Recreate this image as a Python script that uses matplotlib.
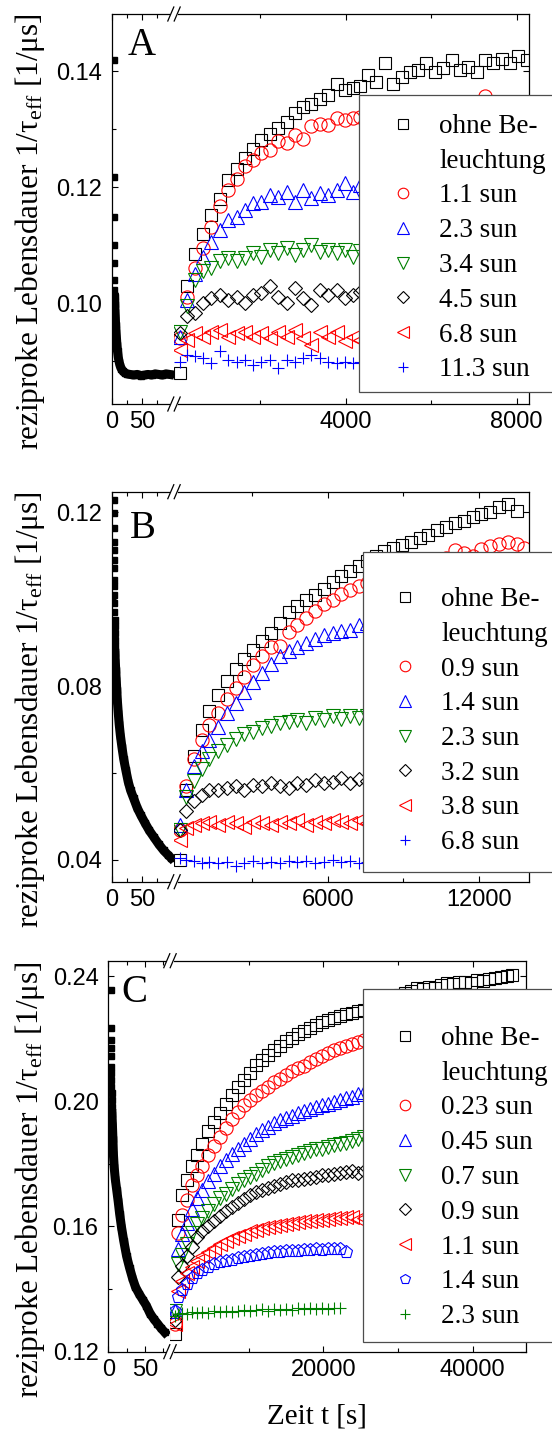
import matplotlib
matplotlib.use("Agg")
import matplotlib.pyplot as plt
from matplotlib.lines import Line2D
from matplotlib.patches import Rectangle
from matplotlib.legend import Legend
from matplotlib.ticker import FixedLocator, FormatStrFormatter

plt.rcParams['font.family'] = 'Liberation Sans'
plt.rcParams['mathtext.fontset'] = 'custom'
plt.rcParams['mathtext.rm'] = 'Liberation Serif'
plt.rcParams['mathtext.it'] = 'Liberation Serif:italic'
plt.rcParams['axes.linewidth'] = 0.9

SERIF = 'Liberation Serif'

# ---------------- data ----------------
# panel A
decA_top_t = [3.0, 3.1, 3.2, 3.3, 3.4, 3.6, 3.8]
decA_top = [0.1419, 0.1218, 0.1149, 0.1100, 0.1069, 0.1040, 0.1023]
decA_t = [4.2, 4.6, 5.0, 5.5, 6.0, 6.7, 7.4, 8.2, 9.2, 10.4, 11.8, 13.5, 15.5, 18.0,
          21.0, 25.0, 30.0, 36.0, 42.0, 48.0, 54.0, 60.0, 66.0, 72.0, 78.0, 84.0, 90.0, 96.0]
decA_y = [0.1010, 0.0998, 0.0985, 0.0975, 0.0962, 0.0950, 0.0940, 0.0928, 0.0917, 0.0907,
          0.0899, 0.0892, 0.0887, 0.0883, 0.0880, 0.0878, 0.0877, 0.0876, 0.0877, 0.0875,
          0.0876, 0.0877, 0.0876, 0.0878, 0.0877, 0.0876, 0.0878, 0.0877]
tA = [120, 280, 470, 670, 860, 1060, 1250, 1450, 1640, 1840, 2030, 2230, 2420, 2620, 2810,
      3010, 3200, 3400, 3590, 3790, 3980, 4180, 4330, 4530, 4720, 4920, 5110, 5310, 5500,
      5700, 5890, 6090, 6280, 6480, 6670, 6870, 7060, 7260, 7450, 7650, 7840, 8040, 8230]
A_labels = ['ohne Be-', 'leuchtung', '1.1 sun', '2.3 sun', '3.4 sun', '4.5 sun', '6.8 sun', '11.3 sun']
A_dark = [0.0879, 0.1030, 0.1085, 0.1120, 0.1152, 0.1180, 0.1212, 0.1232, 0.1250, 0.1266,
          0.1282, 0.1292, 0.1303, 0.1313, 0.1328, 0.1339, 0.1344, 0.1352, 0.1360, 0.1378,
          0.1368, 0.1372, 0.1374, 0.1394, 0.1382, 0.1415, 0.1378, 0.1391, 0.1399, 0.1402,
          0.1414, 0.1399, 0.1405, 0.1419, 0.1402, 0.1408, 0.1399, 0.1420, 0.1414, 0.1422,
          0.1414, 0.1426, 0.1420]
A_11 = [0.0940, 0.1010, 0.1060, 0.1095, 0.1132, 0.1168, 0.1196, 0.1214, 0.1236, 0.1247,
        0.1259, 0.1264, 0.1279, 0.1276, 0.1290, 0.1284, 0.1305, 0.1310, 0.1307, 0.1319,
        0.1316, 0.1319, 0.1322, 0.1325, 0.1321, 0.1331, 0.1326, 0.1334, 0.1329, 0.1336,
        0.1332, 0.1339, 0.1334, 0.1341, 0.1336, 0.1343, 0.1338, 0.1357, 0.1341, 0.1345,
        0.1340, 0.1347, 0.1343]
A_23 = [0.0942, 0.1005, 0.1050, 0.1080, 0.1106, 0.1126, 0.1144, 0.1149, 0.1160, 0.1172,
        0.1175, 0.1187, 0.1184, 0.1192, 0.1175, 0.1195, 0.1181, 0.1190, 0.1186, 0.1195,
        0.1207, 0.1192, 0.1204]
A_34 = [0.0950, 0.0995, 0.1040, 0.1055, 0.1060, 0.1072, 0.1078, 0.1072, 0.1078, 0.1086,
        0.1080, 0.1092, 0.1086, 0.1095, 0.1083, 0.1092, 0.1101, 0.1089, 0.1092, 0.1086,
        0.1092, 0.1080, 0.1090]
A_45 = [0.0948, 0.0977, 0.0983, 0.1000, 0.1009, 0.1014, 0.1006, 0.1011, 0.1000, 0.1014,
        0.1017, 0.1029, 0.1011, 0.1000, 0.1026, 0.1009, 0.0997, 0.1023, 0.1014, 0.1023,
        0.1009, 0.1014, 0.1020]
A_68 = [0.0919, 0.0937, 0.0948, 0.0942, 0.0951, 0.0954, 0.0942, 0.0948, 0.0951, 0.0942,
        0.0948, 0.0940, 0.0951, 0.0942, 0.0954, 0.0940, 0.0928, 0.0951, 0.0942, 0.0951,
        0.0934, 0.0942, 0.0937]
A_113 = [0.0899, 0.0911, 0.0908, 0.0905, 0.0897, 0.0917, 0.0902, 0.0899, 0.0902, 0.0894,
         0.0899, 0.0902, 0.0888, 0.0902, 0.0899, 0.0905, 0.0911, 0.0905, 0.0899, 0.0897,
         0.0899, 0.0897, 0.0899]

# panel B
decB_top_t = [3.0, 3.1, 3.2, 3.3, 3.4, 3.5, 3.6, 3.7, 3.8, 3.9, 4.0, 4.1, 4.2, 4.3, 4.4, 4.5, 4.6]
decB_top = [0.1228, 0.1198, 0.1163, 0.1132, 0.1113, 0.1090, 0.1071, 0.1044, 0.1029, 0.1010,
            0.0991, 0.0971, 0.0952, 0.0937, 0.0922, 0.0906, 0.0891]
decB_t = [5.0, 5.5, 6.2, 7.0, 8.0, 9.0, 10.5, 12.0, 14.0, 16.5, 19.5, 23.0, 27.0, 31.0,
          36.0, 42.0, 48.0, 55.0, 62.0, 70.0, 78.0, 86.0, 93.0, 98.0]
decB_y = [0.0875, 0.0855, 0.0837, 0.0815, 0.0790, 0.0765, 0.0737, 0.0712, 0.0686, 0.0660,
          0.0632, 0.0607, 0.0580, 0.0560, 0.0542, 0.0520, 0.0503, 0.0485, 0.0468, 0.0452,
          0.0436, 0.0422, 0.0412, 0.0405]
tB = [150, 400, 700, 1000, 1300, 1650, 2000, 2350, 2700, 3050, 3400, 3750, 4100, 4450,
      4800, 5150, 5500, 5850, 6200, 6550, 6900, 7250, 7550, 7900, 8250, 8600, 8950, 9300,
      9650, 10000, 10350, 10700, 11050, 11400, 11750, 12100, 12450, 12800, 13150, 13500, 13800]
B_labels = ['ohne Be-', 'leuchtung', '0.9 sun', '1.4 sun', '2.3 sun', '3.2 sun', '3.8 sun', '6.8 sun']
B_dark = [0.0400, 0.0560, 0.0640, 0.0700, 0.0742, 0.0779, 0.0812, 0.0840, 0.0862, 0.0883,
          0.0904, 0.0922, 0.0945, 0.0970, 0.0984, 0.0997, 0.1010, 0.1024, 0.1040, 0.1053,
          0.1064, 0.1076, 0.1088, 0.1100, 0.1110, 0.1117, 0.1125, 0.1132, 0.1140, 0.1148,
          0.1158, 0.1165, 0.1175, 0.1180, 0.1188, 0.1195, 0.1200, 0.1212, 0.1218, 0.1203]
B_09 = [0.0470, 0.0570, 0.0632, 0.0675, 0.0710, 0.0738, 0.0770, 0.0796, 0.0820, 0.0849,
        0.0868, 0.0890, 0.0893, 0.0925, 0.0940, 0.0957, 0.0973, 0.0989, 0.0999, 0.1012,
        0.1021, 0.1030, 0.1036, 0.1045, 0.1052, 0.1060, 0.1068, 0.1075, 0.1080, 0.1085,
        0.1090, 0.1094, 0.1112, 0.1107, 0.1098, 0.1115, 0.1122, 0.1127, 0.1131, 0.1126, 0.1118]
B_14 = [0.0480, 0.0560, 0.0615, 0.0650, 0.0675, 0.0705, 0.0737, 0.0762, 0.0786, 0.0810,
        0.0830, 0.0850, 0.0868, 0.0880, 0.0889, 0.0898, 0.0908, 0.0917, 0.0922, 0.0926,
        0.0930, 0.0940, 0.0945]
B_23 = [0.0470, 0.0545, 0.0582, 0.0610, 0.0632, 0.0650, 0.0665, 0.0678, 0.0690, 0.0695,
        0.0703, 0.0707, 0.0714, 0.0718, 0.0722, 0.0714, 0.0726, 0.0722, 0.0730, 0.0724,
        0.0730, 0.0726, 0.0731]
B_32 = [0.0470, 0.0513, 0.0536, 0.0550, 0.0562, 0.0561, 0.0566, 0.0569, 0.0561, 0.0572,
        0.0569, 0.0576, 0.0569, 0.0565, 0.0576, 0.0572, 0.0584, 0.0576, 0.0580, 0.0588,
        0.0576, 0.0586, 0.0582]
B_38 = [0.0446, 0.0473, 0.0480, 0.0484, 0.0488, 0.0480, 0.0488, 0.0484, 0.0476, 0.0488,
        0.0484, 0.0480, 0.0488, 0.0484, 0.0492, 0.0480, 0.0488, 0.0484, 0.0492, 0.0488,
        0.0484, 0.0492, 0.0486]
B_68 = [0.0404, 0.0400, 0.0397, 0.0394, 0.0396, 0.0393, 0.0395, 0.0386, 0.0394, 0.0397,
        0.0393, 0.0396, 0.0394, 0.0397, 0.0395, 0.0398, 0.0394, 0.0396, 0.0399, 0.0395,
        0.0397, 0.0394, 0.0396]

# panel C
decC_top_t = [3.5, 3.6, 3.7, 3.8, 3.9, 4.0, 4.1, 4.2, 4.3, 4.4, 4.5, 4.6]
decC_top = [0.2355, 0.2233, 0.2196, 0.2170, 0.2143, 0.2111, 0.2090, 0.2069, 0.2047, 0.2026,
            0.2005, 0.1983]
decC_t = [5.0, 5.6, 6.3, 7.0, 8.0, 9.5, 11.4, 13.5, 15.5, 18.0, 21.0, 25.0, 29.0, 33.0,
          37.0, 42.0, 47.0, 52.0, 57.0, 62.0, 67.0, 72.0, 77.0]
decC_y = [0.1960, 0.1925, 0.1880, 0.1830, 0.1790, 0.1752, 0.1718, 0.1680, 0.1640, 0.1598,
          0.1555, 0.1505, 0.1468, 0.1435, 0.1407, 0.1385, 0.1366, 0.1347, 0.1322, 0.1305,
          0.1290, 0.1275, 0.1262]
tC = [200, 600, 1100, 1700, 2400, 3100, 3800, 4600, 5400, 6200, 7000, 7800, 8600, 9400,
      10200, 11000, 11800, 12600, 13400, 14200, 15000, 15800, 16600, 17400, 18200, 19000,
      19800, 20600, 21400, 22200, 23000, 23800, 24600, 25400, 26200, 27000, 27800, 28600,
      29400, 30200, 31000, 31800, 32600, 33400, 34200, 35000, 35800, 36600, 37400, 38200,
      39000, 39800, 40600, 41400, 42200, 43000, 43800, 44600, 45200]
C_labels = ['ohne Be-', 'leuchtung', '0.23 sun', '0.45 sun', '0.7 sun', '0.9 sun',
            '1.1 sun', '1.4 sun', '2.3 sun']
C_dark = [0.1255, 0.1620, 0.1700, 0.1750, 0.1792, 0.1827, 0.1865, 0.1905, 0.1935, 0.1962,
          0.1992, 0.2020, 0.2045, 0.2068, 0.2090, 0.2115, 0.2132, 0.2148, 0.2165, 0.2178,
          0.2191, 0.2203, 0.2216, 0.2226, 0.2235, 0.2245, 0.2253, 0.2260, 0.2266, 0.2272,
          0.2278, 0.2283, 0.2287, 0.2292, 0.2296, 0.2305, 0.2315, 0.2322, 0.2330, 0.2338,
          0.2345, 0.2352, 0.2361, 0.2358, 0.2366, 0.2363, 0.2372, 0.2377, 0.2374, 0.2380,
          0.2382, 0.2379, 0.2387, 0.2385, 0.2390, 0.2394, 0.2398, 0.2400, 0.2404]
C_023 = [0.1290, 0.1580, 0.1638, 0.1686, 0.1731, 0.1764, 0.1794, 0.1827, 0.1858, 0.1886,
         0.1915, 0.1943, 0.1966, 0.1988, 0.2005, 0.2021, 0.2034, 0.2047, 0.2060, 0.2072,
         0.2085, 0.2096, 0.2106, 0.2114, 0.2124, 0.2134, 0.2143, 0.2153, 0.2163, 0.2171,
         0.2178, 0.2184, 0.2190, 0.2195]
C_045 = [0.1330, 0.1527, 0.1575, 0.1612, 0.1655, 0.1690, 0.1718, 0.1745, 0.1769, 0.1792,
         0.1812, 0.1831, 0.1847, 0.1862, 0.1879, 0.1895, 0.1909, 0.1919, 0.1929, 0.1939,
         0.1946, 0.1952, 0.1962, 0.1970, 0.1976, 0.1983, 0.1989, 0.1992, 0.1997, 0.2003,
         0.2009, 0.2015, 0.2022, 0.2028]
C_07 = [0.1330, 0.1480, 0.1510, 0.1545, 0.1580, 0.1607, 0.1628, 0.1650, 0.1672, 0.1690,
        0.1705, 0.1721, 0.1736, 0.1749, 0.1758, 0.1768, 0.1781, 0.1792, 0.1802, 0.1809,
        0.1815, 0.1821, 0.1827, 0.1834, 0.1840, 0.1846, 0.1849, 0.1854, 0.1860, 0.1864,
        0.1868, 0.1873, 0.1880, 0.1886]
C_09 = [0.1300, 0.1440, 0.1475, 0.1505, 0.1535, 0.1565, 0.1585, 0.1601, 0.1617, 0.1633,
        0.1648, 0.1662, 0.1675, 0.1688, 0.1700, 0.1710, 0.1717, 0.1723, 0.1730, 0.1736,
        0.1742, 0.1747, 0.1750, 0.1753, 0.1756, 0.1759, 0.1763, 0.1766, 0.1769, 0.1772,
        0.1775, 0.1778, 0.1772, 0.1778]
C_11 = [0.1290, 0.1395, 0.1425, 0.1450, 0.1472, 0.1490, 0.1505, 0.1518, 0.1530, 0.1545,
        0.1555, 0.1563, 0.1570, 0.1577, 0.1584, 0.1590, 0.1596, 0.1599, 0.1602, 0.1605,
        0.1608, 0.1611, 0.1614, 0.1617, 0.1619, 0.1620, 0.1621, 0.1624, 0.1626, 0.1627,
        0.1629, 0.1630, 0.1625, 0.1628]
C_14 = [0.1330, 0.1375, 0.1398, 0.1415, 0.1435, 0.1450, 0.1462, 0.1472, 0.1480, 0.1486,
        0.1490, 0.1494, 0.1500, 0.1503, 0.1506, 0.1509, 0.1512, 0.1516, 0.1518, 0.1519,
        0.1521, 0.1522, 0.1521, 0.1524, 0.1525, 0.1527, 0.1526, 0.1528, 0.1527, 0.1529, 0.1520]
C_23 = [0.1315, 0.1320, 0.1325, 0.1321, 0.1327, 0.1323, 0.1328, 0.1324, 0.1329, 0.1326,
        0.1331, 0.1327, 0.1330, 0.1333, 0.1329, 0.1332, 0.1335, 0.1331, 0.1336, 0.1333,
        0.1337, 0.1334, 0.1338, 0.1335, 0.1339, 0.1336, 0.1340, 0.1337, 0.1341, 0.1338]

# marker styles: (marker, colour, size)
sty_sq = ('s', 'k', 8)
sty_ci = ('o', '#ff0000', 9.5)
sty_up = ('^', '#0000ff', 10)
sty_dn = ('v', '#008000', 10)
sty_di = ('D', 'k', 7.2)
sty_lf = ('<', '#ff0000', 10)
sty_pe = ('p', '#0000ff', 9.5)
sty_plb = ('+', '#0000ff', 9)
sty_plg = ('+', '#008000', 9)

W, H = 552, 1434
fig = plt.figure(figsize=(W / 100, H / 100), dpi=100)
over = fig.add_axes([0, 0, 1, 1], zorder=5)
over.set_xlim(0, W)
over.set_ylim(H, 0)
over.axis('off')

YLABEL = r'reziproke Lebensdauer 1/$\mathrm{\tau}_{\mathrm{eff}}$ [1/μs]'


def mk(style, ms=None):
    m, c, s = style
    return dict(ls='none', marker=m, ms=ms or s, mfc='none', mec=c, color=c, mew=0.8)


def panel(box, xlimL, xlimR, ylim, yt, ytm, xtL, xtLm, xtR, xtRm, letter, letter_xy,
          dec_top, dec, t, series, styles, labels, leg_box):
    left, brk, right, top, bottom = box
    hh = (bottom - top) / H
    axL = fig.add_axes([left / W, 1 - bottom / H, (brk - left) / W, hh])
    axR = fig.add_axes([brk / W, 1 - bottom / H, (right - brk) / W, hh])
    for ax in (axL, axR):
        ax.set_ylim(ylim)
        ax.yaxis.set_major_locator(FixedLocator(yt))
        ax.yaxis.set_minor_locator(FixedLocator(ytm))
        ax.tick_params(which='both', direction='in', top=True, width=0.8,
                       labelsize=17, pad=5)
        ax.tick_params(which='major', length=4.5)
        ax.tick_params(which='minor', length=3.2)
        ax.xaxis.set_major_formatter(FormatStrFormatter('%d'))
    axL.yaxis.set_major_formatter(FormatStrFormatter('%.2f'))
    axL.tick_params(which='both', right=False)
    axL.tick_params(axis='y', pad=7)
    axR.tick_params(which='both', left=False, labelleft=False, right=True)
    axL.spines['right'].set_visible(False)
    axR.spines['left'].set_visible(False)
    axL.set_xlim(xlimL)
    axR.set_xlim(xlimR)
    axL.xaxis.set_major_locator(FixedLocator(xtL))
    axL.xaxis.set_minor_locator(FixedLocator(xtLm))
    axR.xaxis.set_major_locator(FixedLocator(xtR))
    axR.xaxis.set_minor_locator(FixedLocator(xtRm))

    # fast initial decay (filled squares)
    axL.plot(dec_top[0], dec_top[1], ls='none', marker='s', ms=4, color='k')
    axL.plot(dec[0], dec[1], '-', color='k', lw=6.5, marker='s', ms=5)

    # slow rise after switching the light off
    for vals, st in zip(series, styles):
        axR.plot(t[:len(vals)], vals, **mk(st))

    # axis break marks
    for yy in (top, bottom):
        over.plot([brk - 4, brk + 4], [yy, yy], color='white', lw=3, solid_capstyle='butt')
        for dx in (-3.2, 3.2):
            over.plot([brk + dx - 3, brk + dx + 3], [yy + 7, yy - 7], color='k', lw=0.9)

    over.text(letter_xy[0], letter_xy[1], letter, family=SERIF, size=28,
              ha='left', va='baseline')
    over.text(30, (top + bottom) / 2 + 23, YLABEL, family=SERIF, size=22.5,
              rotation=90, ha='center', va='center')

    # legend: frame + entries
    fl, ft, fb, ax0, ay0 = leg_box
    over.add_patch(Rectangle((fl, ft), 260, fb - ft, fc='white', ec='0.3', lw=0.9, zorder=3))
    handles = [Line2D([], [], **mk(styles[0], 6.5)), Line2D([], [], ls='none', marker='')]
    handles += [Line2D([], [], **mk(st, st[2] * 0.8)) for st in styles[1:]]
    leg = Legend(over, handles, labels, loc='upper left', bbox_to_anchor=(ax0, ay0),
                 bbox_transform=over.transData, frameon=False, borderpad=0,
                 borderaxespad=0, handlelength=1.84, handletextpad=0.4,
                 labelspacing=0.36, numpoints=1, prop={'family': SERIF, 'size': 19.5})
    leg.set_zorder(4)
    over.add_artist(leg)


panel((112, 174, 529, 14, 404), (0, 103.3), (-16, 8288), (0.0826, 0.1499),
      [0.10, 0.12, 0.14], [0.09, 0.11, 0.13], [0, 50], [25, 75],
      [4000, 8000], [2000, 6000], 'A', (128, 55),
      (decA_top_t, decA_top), (decA_t, decA_y), tA,
      [A_dark, A_11, A_23, A_34, A_45, A_68, A_113],
      [sty_sq, sty_ci, sty_up, sty_dn, sty_di, sty_lf, sty_plb], A_labels,
      (359, 95, 392, 378.5, 114))

panel((112, 174, 529, 491.7, 881.7), (0, 103.3), (-91, 13985), (0.0350, 0.1247),
      [0.04, 0.08, 0.12], [0.06, 0.10], [0, 50], [25, 75],
      [6000, 12000], [3000, 9000], 'B', (130, 538),
      (decB_top_t, decB_top), (decB_t, decB_y), tB,
      [B_dark, B_09, B_14, B_23, B_32, B_38, B_68],
      [sty_sq, sty_ci, sty_up, sty_dn, sty_di, sty_lf, sty_plb], B_labels,
      (363, 551.7, 871.7, 380.5, 587))

panel((108.3, 170, 525.7, 960.7, 1351.7), (0, 84.2), (-536, 47100), (0.12, 0.2449),
      [0.12, 0.16, 0.20, 0.24], [0.14, 0.18, 0.22], [0, 50], [25, 75],
      [20000, 40000], [10000, 30000], 'C', (121.7, 1002),
      (decC_top_t, decC_top), (decC_t, decC_y), tC,
      [C_dark, C_023, C_045, C_07, C_09, C_11, C_14, C_23],
      [sty_sq, sty_ci, sty_up, sty_dn, sty_di, sty_lf, sty_pe, sty_plg], C_labels,
      (363.3, 989.3, 1341.7, 380.5, 1026))

over.text(316.7, 1416, 'Zeit t [s]', family=SERIF, size=21, ha='center', va='center')

fig.savefig('out.png', dpi=100)
